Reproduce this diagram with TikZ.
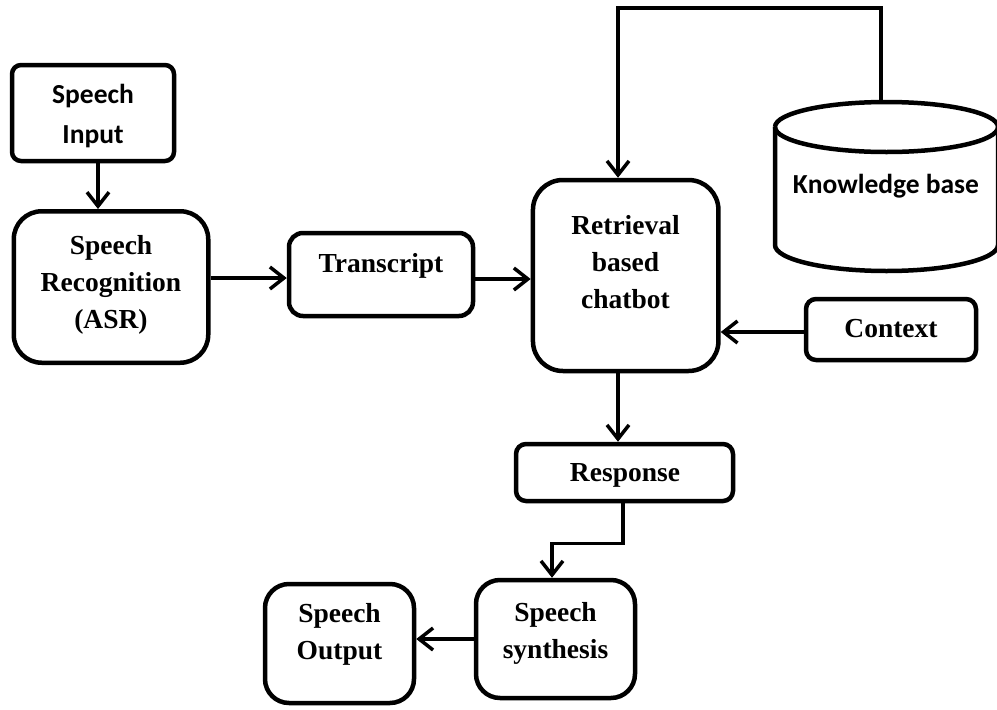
\documentclass[tikz,border=0pt]{standalone}
\usepackage{fontspec}
\setmainfont{Liberation Serif}
\newfontfamily\calfont{Carlito}
\usetikzlibrary{arrows.meta,calc}
\begin{document}
\begin{tikzpicture}[x=1pt,y=-1pt,
  box/.style={draw,line width=4.5pt,rectangle,inner sep=0pt,fill=none},
  lbl/.style={inner sep=0pt,align=center,font=\fontsize{27.5}{37}\selectfont\bfseries,anchor=base},
  clbl/.style={inner sep=0pt,align=center,font=\fontsize{27.5}{40}\selectfont\calfont\bfseries,anchor=base},
  arr/.style={line width=3.5pt,-{Straight Barb[length=14pt,width=22pt]}},
  conn/.style={line width=3.5pt}]
\useasboundingbox (0,0) rectangle (997,710);
% boxes
\node[box,rounded corners=9pt,minimum width=162pt,minimum height=96pt] (sin) at (93,113) {};
\node[box,rounded corners=28pt,minimum width=194.5pt,minimum height=151.5pt] (asr) at (111,287) {};
\node[box,rounded corners=14pt,minimum width=184pt,minimum height=83pt] (trans) at (381,274.5) {};
\node[box,rounded corners=30pt,minimum width=185.5pt,minimum height=191pt] (chat) at (625.7,275.5) {};
\node[box,rounded corners=10pt,minimum width=170pt,minimum height=61pt] (ctx) at (891,329.5) {};
\node[box,rounded corners=10pt,minimum width=217pt,minimum height=57pt] (resp) at (624.5,472.5) {};
\node[box,rounded corners=24pt,minimum width=159pt,minimum height=118pt] (synth) at (555.5,639) {};
\node[box,rounded corners=24pt,minimum width=149pt,minimum height=119pt] (out) at (339.5,643.5) {};
% cylinder
\draw[line width=4.5pt] (775,127) arc[start angle=180,end angle=-180,x radius=111.5pt,y radius=25pt];
\draw[line width=4.5pt] (775,127) -- (775,245) arc[start angle=180,end angle=360,x radius=111.5pt,y radius=26pt] -- (998,127);
\coordinate (kbtop) at (881,103);
\coordinate (kbturn) at (881,8);
% texts
\node[clbl] (tsin) at (93,143) {Speech\\Input};
\node[lbl] (tasr) at (111,328) {Speech\\Recognition\\(ASR)};
\node[lbl] (ttrans) at (381,272) {Transcript};
\node[lbl] (tchat) at (625.5,308) {Retrieval\\based\\chatbot};
\node[clbl] (tkb) at (886,193) {Knowledge base};
\node[lbl] (tctx) at (891,337) {Context};
\node[lbl] (tresp) at (625,481) {Response};
\node[lbl] (tsynth) at (555.5,658) {Speech\\synthesis};
\node[lbl] (tout) at (339.5,659) {Speech\\Output};
% connectors
\draw[arr] ([xshift=5pt]sin.south) -- ([xshift=5pt]sin.south |- asr.north);
\draw[arr] ([yshift=9pt]asr.east) -- ([yshift=9pt]asr.east -| trans.west);
\draw[arr] ([yshift=-4.5pt]trans.east) -- ([yshift=-4.5pt]trans.east -| chat.west);
\draw[arr] ([yshift=-2.5pt]ctx.west) -- ([yshift=-2.5pt]ctx.west -| chat.east);
\draw[arr] ([xshift=-7.7pt]chat.south) -- ([xshift=-7.7pt]chat.south |- resp.north);
\draw[arr] ([xshift=-1.5pt]resp.south) -- ++(0,40) -| ([xshift=-3.5pt]synth.north);
\draw[arr] (synth.west) -- (synth.west -| out.east);
\draw[arr] (kbtop) -- (kbturn) -| ([xshift=-7.7pt]chat.north);
\end{tikzpicture}
\end{document}
